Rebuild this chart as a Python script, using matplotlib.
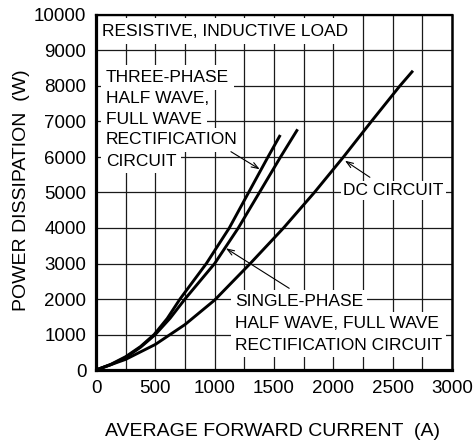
#!/usr/bin/env python3
"""Power dissipation vs average forward current for three circuit types."""

import matplotlib

matplotlib.use("Agg")
import matplotlib.pyplot as plt

plt.rcParams["font.family"] = ["Liberation Sans", "DejaVu Sans"]

# values
three_phase_i = [0, 125, 250, 375, 490, 600, 708, 930, 1123, 1286, 1449, 1553]
three_phase_p = [0, 160, 375, 660, 1000, 1450, 2000, 3000, 4000, 5000, 6000, 6620]

single_phase_i = [0, 125, 250, 375, 500, 625, 750, 1000, 1199, 1377, 1555, 1699]
single_phase_p = [0, 150, 350, 640, 1000, 1460, 2000, 3000, 4000, 5000, 6000, 6780]

dc_i = [0, 250, 500, 750, 1000, 1300, 1580, 1840, 2085, 2320, 2560, 2671]
dc_p = [0, 300, 720, 1280, 1970, 3000, 4000, 5000, 6000, 7000, 8000, 8430]

x_ticks = [0, 500, 1000, 1500, 2000, 2500, 3000]
y_ticks = list(range(0, 10001, 1000))

TEXT_SIZE = 12.5
TICK_SIZE = 13.5
LABEL_SIZE = 14
ARROW = dict(arrowstyle="->,head_length=0.5,head_width=0.18", lw=0.8,
             color="black", shrinkA=0, shrinkB=0)

fig = plt.figure(figsize=(4.77, 4.44), dpi=100)
ax = fig.add_axes([96 / 477, 74 / 444, 356 / 477, 355 / 444])

ax.set_xlim(0, 3000)
ax.set_ylim(0, 10000)
ax.set_xticks(x_ticks)
ax.set_xticks(range(0, 3001, 250), minor=True)
ax.set_yticks(y_ticks)
ax.set_xticklabels([str(v) for v in x_ticks], fontsize=TICK_SIZE)
ax.set_yticklabels([str(v) for v in y_ticks], fontsize=TICK_SIZE)
ax.tick_params(axis="both", which="both", length=0, pad=7)
ax.grid(which="both", color="#1a1a1a", linewidth=0.9)
ax.set_axisbelow(True)

for side, lw in (("left", 2.3), ("bottom", 2.3), ("top", 1.6), ("right", 1.8)):
    ax.spines[side].set_linewidth(lw)
    ax.spines[side].set_zorder(5)

for xs, ys in ((three_phase_i, three_phase_p),
               (single_phase_i, single_phase_p),
               (dc_i, dc_p)):
    ax.plot(xs, ys, color="black", lw=2.1, zorder=3,
            solid_joinstyle="round", solid_capstyle="butt")

ax.set_xlabel("AVERAGE FORWARD CURRENT  (A)", fontsize=LABEL_SIZE)
ax.xaxis.set_label_coords(0.496, -0.172)
ax.xaxis.label.set_va("center")
ax.set_ylabel("POWER DISSIPATION  (W)", fontsize=LABEL_SIZE)
ax.yaxis.set_label_coords(-0.208, 0.507)
ax.yaxis.label.set_va("center")

ax.text(48, 9549, "RESISTIVE, INDUCTIVE LOAD", fontsize=TEXT_SIZE,
        va="center", ha="left",
        bbox=dict(facecolor="white", edgecolor="none", pad=4), zorder=4)

three_lines = ["THREE-PHASE", "HALF WAVE,", "FULL WAVE", "RECTIFICATION", "CIRCUIT"]
three_y = [8245, 7654, 7070, 6479, 5887]
for line, y in zip(three_lines, three_y):
    ax.text(84, y, line, fontsize=TEXT_SIZE, va="center", ha="left",
            bbox=dict(facecolor="white", edgecolor="none", pad=3.5), zorder=4)

single_lines = ["SINGLE-PHASE", "HALF WAVE, FULL WAVE", "RECTIFICATION CIRCUIT"]
single_y = [1925, 1315, 704]
for line, y in zip(single_lines, single_y):
    ax.text(1171, y, line, fontsize=TEXT_SIZE, va="center", ha="left",
            bbox=dict(facecolor="white", edgecolor="none", pad=3.0), zorder=4)

ax.text(2084, 5050, "DC CIRCUIT", fontsize=TEXT_SIZE, va="center", ha="left",
        bbox=dict(facecolor="white", edgecolor="none", pad=1.5), zorder=4)

ax.annotate("", xy=(1380, 5654), xytext=(1137, 6150), arrowprops=ARROW, zorder=4)
ax.annotate("", xy=(1095, 3428), xytext=(1628, 2301), arrowprops=ARROW, zorder=4)
ax.annotate("", xy=(2098, 5896), xytext=(2308, 5428), arrowprops=ARROW, zorder=4)

fig.savefig("out.png", dpi=100)
plt.close(fig)
